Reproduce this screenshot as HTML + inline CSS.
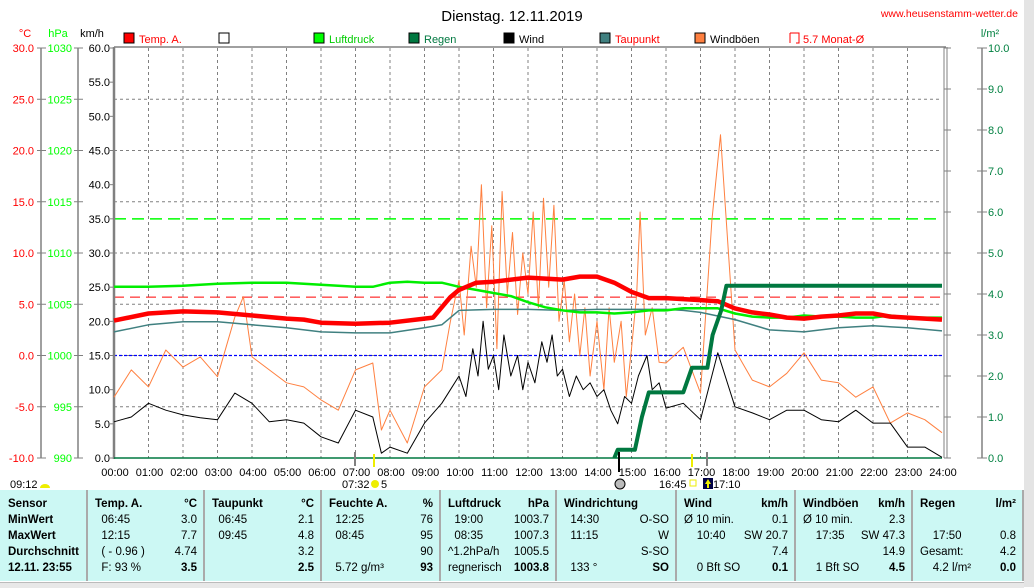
<!DOCTYPE html>
<html><head><meta charset="utf-8"><style>
body{margin:0;width:1034px;height:587px;overflow:hidden;background:#fff;font-family:"Liberation Sans",sans-serif;position:relative}
svg{position:absolute;left:0;top:0}
#tbl{position:absolute;left:0;top:490px;width:1024px;height:91px;background:#ccf8f4;font-size:11.5px}
.col{position:absolute;top:0;height:91px;border-right:2px solid #aaa}
.r{position:absolute;white-space:nowrap}
.b{font-weight:bold}
#status{position:absolute;left:0;top:582px;width:1024px;height:5px;background:#e8e8e8;border-top:1px solid #bbb}
#scroll{position:absolute;left:1024px;top:0;width:10px;height:587px;background:#e4e4e4}
</style></head><body>
<svg id="chart" width="1034" height="490"></svg>
<div id="tbl"></div>
<div id="status"></div>
<div id="scroll"></div>
<script>
const tempHours=[0,1,2,3,4,5,5.5,6,7,8,9,9.25,9.75,10,10.5,11,12,12.5,13,13.5,14,14.5,15,15.5,16,16.5,17,17.5,18,18.5,19,19.5,20,20.5,21,21.5,22,22.5,23,23.5,24];
const tempValues=[3.4,4.1,4.3,4.2,3.9,3.6,3.5,3.2,3.1,3.2,3.6,3.7,5.7,6.4,7.1,7.2,7.6,7.5,7.4,7.7,7.7,7.1,6.2,5.6,5.6,5.5,5.4,5.3,4.6,4.2,4.0,3.7,3.6,3.8,3.9,4.1,4.1,3.8,3.7,3.6,3.5];
const dewHours=[0,1,2,3,4,5,6,7,8,9,9.5,10,11,12,13,14,15,16,16.5,17,18,19,20,21,22,23,24];
const dewValues=[2.3,3.0,3.3,3.3,3.0,2.7,2.3,2.2,2.2,2.7,3.0,4.4,4.5,4.5,4.4,4.5,4.5,4.5,4.4,4.2,3.5,2.5,2.3,2.7,2.9,2.7,2.4];
const pressHours=[0,1,2,3,4,5,6,7,7.5,8,8.5,9,9.5,10,10.5,11,11.5,12,12.5,13,13.5,14,14.5,15,15.5,16,16.5,17,17.5,18,18.5,19,19.5,20,20.5,21,21.5,22,22.5,23,23.5,24];
const pressValues=[1006.7,1006.7,1006.8,1007.0,1007.1,1007.1,1006.9,1006.7,1006.7,1007.1,1007.2,1007.1,1007.1,1006.7,1006.4,1006.1,1005.8,1005.2,1004.7,1004.4,1004.2,1004.2,1004.1,1004.2,1004.4,1004.4,1004.6,1004.6,1004.6,1004.1,1003.8,1003.7,1003.7,1003.9,1003.8,1003.8,1003.7,1003.7,1003.9,1003.7,1003.7,1003.7];
const rainHours=[14.5,14.6,15.1,15.3,15.5,16.5,16.75,17.2,17.35,17.6,17.75,24];
const rainValues=[0,0.2,0.2,1.0,1.6,1.6,2.2,2.2,3.0,3.6,4.2,4.2];
const windHours=[0,0.5,1,1.5,2,2.5,3,3.5,4,4.5,5,5.5,6,6.5,7,7.5,7.75,8,8.5,9,9.5,9.75,10,10.2,10.4,10.55,10.7,10.85,11,11.15,11.3,11.5,11.7,11.85,12,12.2,12.4,12.55,12.7,12.85,13,13.2,13.4,13.6,13.8,14,14.2,14.4,14.6,14.8,15,15.2,15.45,15.6,15.8,16,16.5,17,17.5,18,18.5,19,19.5,20,20.5,21,21.5,22,22.5,23,23.5,24];
const windValues=[5.3,6.0,8.0,7.0,6.3,5.9,5.6,9.5,8.0,5.3,5.6,5.1,3.1,2.2,7.0,6.0,0.7,1.6,0.7,5.1,8,10,12,9,16,12,20,13,15,10,18,12,15,10,14,11,17,14,18,12,13,9,12,10,11,9,10,7,5,9,8,12,15,10,11,7.3,8.0,5.6,15.4,7.5,6.6,5.6,7.0,7.0,5.6,5.3,7.0,5.1,5.1,1.6,1.6,0.1];
const gustHours=[0,0.5,1,1.5,2,2.5,3,3.5,3.75,4,4.5,5,5.5,6,6.5,7,7.5,7.75,8,8.5,9,9.5,9.75,10,10.15,10.35,10.5,10.65,10.8,10.95,11.1,11.25,11.4,11.55,11.7,11.85,12,12.15,12.3,12.45,12.6,12.75,12.9,13.05,13.2,13.35,13.5,13.65,13.8,14,14.2,14.35,14.5,14.7,14.85,15,15.15,15.25,15.4,15.6,15.8,16,16.5,17,17.33,17.58,18,18.5,19,19.5,20,20.5,21,21.5,22,22.5,23,23.5,24];
const gustValues=[8.9,12.9,10.4,15.8,13.3,14.8,11.9,20.6,23.6,14.8,12.9,11.0,10.4,8.5,7.0,12.9,13.9,4.1,7.0,2.2,10.4,12.9,20,26,18,31,25,40,22,34,16,39,24,33,21,30,24,36,22,38,25,37,20,26,17,24,15,22,12,20,10,22,14,20,9,16,24,36,18,22,14,13.9,16.2,9.5,34.8,47.3,15.8,11.4,10.4,12.4,15.4,11.4,11.0,8.9,10.4,5.1,6.6,5.6,3.7];
const hourLabels=["00:00","01:00","02:00","03:00","04:00","05:00","06:00","07:00","08:00","09:00","10:00","11:00","12:00","13:00","14:00","15:00","16:00","17:00","18:00","19:00","20:00","21:00","22:00","23:00","24:00"];
const tempTicks=[30,25,20,15,10,5,0,-5,-10];
const pressTicks=[1030,1025,1020,1015,1010,1005,1000,995,990];
const windTicks=[60,55,50,45,40,35,30,25,20,15,10,5,0];
const rainTicks=[10,9,8,7,6,5,4,3,2,1,0];
const monthAvg=5.7;

const X0=114,X1=942,Y0=48,Y1=458;
const xOf=h=>X0+h*(X1-X0)/24;
const yT=t=>Y0+(30-t)*(Y1-Y0)/40;
const yP=p=>Y0+(1030-p)*(Y1-Y0)/40;
const yW=w=>Y1-w*(Y1-Y0)/60;
const yR=r=>Y1-r*(Y1-Y0)/10;
const NS="http://www.w3.org/2000/svg";
const svg=document.getElementById('chart');
function mk(tag,attrs,parent){const e=document.createElementNS(NS,tag);for(const k in attrs)e.setAttribute(k,attrs[k]);(parent||svg).appendChild(e);return e;}
function txt(s,x,y,fill,anchor,size){const e=mk('text',{x:x,y:y,fill:fill,'text-anchor':anchor||'start','font-size':size||11,'font-family':'Liberation Sans, sans-serif'});e.textContent=s;return e;}
function line(hs,vs,yf,stroke,w,name){const pts=hs.map((h,i)=>xOf(h).toFixed(1)+','+yf(vs[i]).toFixed(1)).join(' ');const p=mk('polyline',{points:pts,fill:'none',stroke:stroke,'stroke-width':w,'stroke-linejoin':'round'});


return p;}

let t=txt('Dienstag. 12.11.2019',512,21,'#000','middle',15);


t=txt('www.heusenstamm-wetter.de',1018,17,'#f00','end',10.5);


txt('°C',25,37,'#f00','middle',11);txt('hPa',58,37,'#0f0','middle',11);txt('km/h',92,37,'#000','middle',11);txt('l/m²',990,37,'#008040','middle',11);

const legItems=[[124,'#f00','Temp. A.','#f00'],[219,'#fff','','#000'],[314,'#0f0','Luftdruck','#0c0'],[409,'#007840','Regen','#007840'],[504,'#000','Wind','#000'],[600,'#408080','Taupunkt','#f00'],[695,'#ff8040','Windböen','#000']];
legItems.forEach(it=>{const g=mk('g',{});


mk('rect',{x:it[0],y:33,width:10,height:10,fill:it[1],stroke:'#000','stroke-width':1},g);
if(it[2]){const e=document.createElementNS(NS,'text');e.setAttribute('x',it[0]+15);e.setAttribute('y',43);e.setAttribute('fill',it[3]);e.setAttribute('font-size',11);e.textContent=it[2];g.appendChild(e);}});
mk('path',{d:'M790,33 h9 v10 h-3 M790,33 v10',fill:'none',stroke:'#f00','stroke-width':1});
txt('5.7 Monat-Ø',803,43,'#f00','start',11);

for(let i=1;i<24;i++) mk('line',{x1:xOf(i),y1:Y0,x2:xOf(i),y2:Y1,stroke:'#808080','stroke-dasharray':'3,3'});
for(let k=1;k<8;k++){const y=Y0+k*(Y1-Y0)/8;mk('line',{x1:X0,y1:y,x2:X1,y2:y,stroke:'#808080','stroke-dasharray':'3,3'});}
mk('line',{x1:X0,y1:yW(35),x2:X1,y2:yW(35),stroke:'#0f0','stroke-width':1.5,'stroke-dasharray':'12,6'});
mk('line',{x1:X0,y1:yT(monthAvg),x2:X1,y2:yT(monthAvg),stroke:'#f00','stroke-width':1,'stroke-dasharray':'10,6'});
mk('line',{x1:X0,y1:yT(0),x2:X1,y2:yT(0),stroke:'#00f','stroke-width':1.2,'stroke-dasharray':'3,2'});

mk('line',{x1:41,y1:Y0,x2:41,y2:Y1,stroke:'#808080','stroke-width':1.5});
mk('line',{x1:78,y1:Y0,x2:78,y2:Y1,stroke:'#808080','stroke-width':1.5});
mk('line',{x1:X0,y1:Y0-1,x2:X0,y2:Y1+1,stroke:'#808080','stroke-width':2.5});
mk('line',{x1:X0,y1:Y0-1,x2:946,y2:Y0-1,stroke:'#808080','stroke-width':1.5});
mk('line',{x1:944,y1:Y0-1,x2:944,y2:Y1,stroke:'#808080','stroke-width':1});
mk('line',{x1:947,y1:Y0-1,x2:947,y2:Y1,stroke:'#808080','stroke-width':1});
mk('line',{x1:982,y1:Y0,x2:982,y2:Y1,stroke:'#808080','stroke-width':1.5});
tempTicks.forEach(v=>{const y=yT(v);mk('line',{x1:37,y1:y,x2:46,y2:y,stroke:'#808080'});txt(v.toFixed(1),34,y+4,'#f00','end',11);});
pressTicks.forEach(v=>{const y=yP(v);mk('line',{x1:74,y1:y,x2:83,y2:y,stroke:'#808080'});txt(String(v),72,y+4,'#0f0','end',11);});
windTicks.forEach(v=>{const y=yW(v);mk('line',{x1:110,y1:y,x2:114,y2:y,stroke:'#808080'});txt(v.toFixed(1),110,y+4,'#000','end',11);});
rainTicks.forEach(v=>{const y=yR(v);mk('line',{x1:944,y1:y,x2:951,y2:y,stroke:'#808080'});mk('line',{x1:977,y1:y,x2:987,y2:y,stroke:'#808080'});txt(v.toFixed(1),988,y+4,'#008040','start',11);});
hourLabels.forEach((s,i)=>txt(s,xOf(i)+1,476,'#000','middle',11));

mk('line',{x1:X0,y1:Y1,x2:X1,y2:Y1,stroke:'#007840','stroke-width':1.5});
line(gustHours,gustValues,yW,'#ff8040',1,'gust-line');
line(windHours,windValues,yW,'#000',1,'wind-line');
line(dewHours,dewValues,yT,'#408080',1.5,'dewpoint-line');
line(pressHours,pressValues,yP,'#00ee00',2.5,'pressure-line');
line(tempHours,tempValues,yT,'#f00',4.5,'temperature-line');
line(rainHours,rainValues,yR,'#007840',4,'rain-line');

mk('line',{x1:355,y1:452,x2:355,y2:466,stroke:'#808080','stroke-width':2});
mk('line',{x1:374,y1:454,x2:374,y2:467,stroke:'#ee0','stroke-width':2});
mk('line',{x1:619,y1:452,x2:619,y2:472,stroke:'#000','stroke-width':2});
mk('line',{x1:692,y1:454,x2:692,y2:467,stroke:'#ee0','stroke-width':2});
mk('line',{x1:707,y1:452,x2:707,y2:466,stroke:'#808080','stroke-width':2});
txt('09:12',10,488,'#000','start',11);
mk('path',{d:'M40,488 a5,4 0 0 1 10,0 z',fill:'#ee0'});
txt('07:32',342,488,'#000','start',11);
mk('circle',{cx:375,cy:484,r:4,fill:'#ee0'});
txt('5',381,488,'#000','start',11);
mk('circle',{cx:620,cy:484,r:5,fill:'#bbb',stroke:'#000'});
txt('16:45',659,488,'#000','start',11);
mk('rect',{x:690,y:480,width:6,height:6,fill:'#fff',stroke:'#ee0'});
mk('rect',{x:703,y:478,width:10,height:11,fill:'#004'});
mk('path',{d:'M708,479 l3,5 h-2 v4 h-2 v-4 h-2 z',fill:'#ee0'});
txt('17:10',713,488,'#000','start',11);

const tbl=document.getElementById('tbl');
const cols=[[0,88],[88,205],[205,322],[322,441],[441,557],[557,677],[677,796],[796,913],[913,1024]];
const rows=[8,24,40,56,72];
const data=[
 [['Sensor','',1],['MinWert','',1],['MaxWert','',1],['Durchschnitt','',1],['12.11. 23:55','',1]],
 [['Temp. A.','°C',1],[' 06:45','3.0'],[' 12:15','7.7'],[' ( - 0.96 )','4.74'],[' F: 93 %','3.5',2]],
 [['Taupunkt','°C',1],[' 06:45','2.1'],[' 09:45','4.8'],['','3.2'],['','2.5',2]],
 [['Feuchte A.','%',1],[' 12:25','76'],[' 08:45','95'],['','90'],[' 5.72 g/m³','93',2]],
 [['Luftdruck','hPa',1],[' 19:00','1003.7'],[' 08:35','1007.3'],['^1.2hPa/h','1005.5'],['regnerisch','1003.8',2]],
 [['Windrichtung','',1],[' 14:30','O-SO'],[' 11:15','W'],['','S-SO'],[' 133 °','SO',2]],
 [['Wind','km/h',1],['Ø 10 min.','0.1'],['  10:40','SW 20.7'],['','7.4'],['  0 Bft SO','0.1',2]],
 [['Windböen','km/h',1],['Ø 10 min.','2.3'],['  17:35','SW 47.3'],['','14.9'],['  1 Bft SO','4.5',2]],
 [['Regen','l/m²',1],['',''],['  17:50','0.8'],['Gesamt:','4.2'],['  4.2 l/m²','0.0',2]]];
cols.forEach((c,ci)=>{const d=document.createElement('div');d.className='col';d.style.left=c[0]+'px';d.style.width=(c[1]-c[0]-2)+'px';


tbl.appendChild(d);
data[ci].forEach((cell,ri)=>{
 const l=document.createElement('div');l.className='r'+((cell[2]===1)?' b':'');l.style.left=(ci==0?8:7)+'px';l.style.top=rows[ri]+'px';l.textContent=cell[0].replace(/^ +/,m=>'\u00a0'.repeat(m.length*2));d.appendChild(l);
 if(cell[1]){const r=document.createElement('div');r.className='r'+(cell[2]?' b':'');r.style.right='6px';r.style.top=rows[ri]+'px';r.textContent=cell[1];d.appendChild(r);}
});});
</script>
</body></html>
